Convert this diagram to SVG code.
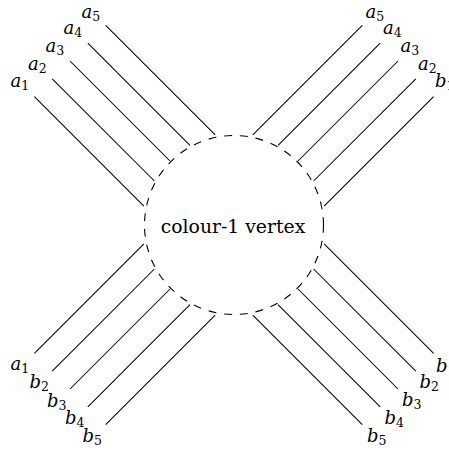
<svg xmlns="http://www.w3.org/2000/svg" width="449" height="450" viewBox="0 0 449 450">
<style>
.bg{fill:#fff}
.ring{fill:none;stroke:#000;stroke-width:1.1;stroke-dasharray:1 1}
.title{font-size:18.8px;fill:#000;text-anchor:middle}
.lbl{font-style:italic;font-size:18px;fill:#000}
.sub{font-style:normal;font-size:12.5px}
#edges line{stroke:#000;stroke-width:1.05;fill:none}
</style>
<rect class="bg" x="0" y="0" width="449" height="450"/>
<g id="edges">
<line x1="34.4" y1="96.7" x2="143.9" y2="206.2"/>
<line x1="52.2" y1="78.8" x2="154.4" y2="181"/>
<line x1="70" y1="61" x2="170" y2="161"/>
<line x1="87.8" y1="43.2" x2="190" y2="145.4"/>
<line x1="105.7" y1="25.4" x2="215.2" y2="134.9"/>
<line x1="362.3" y1="25.4" x2="252.8" y2="134.9"/>
<line x1="380.2" y1="43.2" x2="278" y2="145.4"/>
<line x1="398" y1="61" x2="298" y2="161"/>
<line x1="415.8" y1="78.8" x2="313.6" y2="181"/>
<line x1="433.6" y1="96.7" x2="324.1" y2="206.2"/>
<line x1="34.4" y1="353.3" x2="143.9" y2="243.8"/>
<line x1="52.2" y1="371.2" x2="154.4" y2="269"/>
<line x1="70" y1="389" x2="170" y2="289"/>
<line x1="87.8" y1="406.8" x2="190" y2="304.6"/>
<line x1="105.7" y1="424.6" x2="215.2" y2="315.1"/>
<line x1="433.6" y1="353.3" x2="324.1" y2="243.8"/>
<line x1="415.8" y1="371.2" x2="313.6" y2="269"/>
<line x1="398" y1="389" x2="298" y2="289"/>
<line x1="380.2" y1="406.8" x2="278" y2="304.6"/>
<line x1="362.3" y1="424.6" x2="252.8" y2="315.1"/>
</g>
<g font-family="DejaVu Serif, serif">
<g id="vertex">
<path class="ring" pathLength="71" d="M 323.5 225 A 89.5 89.5 0 0 0 144.5 225 A 89.5 89.5 0 0 0 323.5 225"/>
<text class="title" x="233" y="232.5">colour-1 vertex</text>
</g>
<g id="labels-top-left">
<text id="tl-a1" class="lbl" x="10.5" y="87.3">a<tspan class="sub" dy="3">1</tspan></text>
<text id="tl-a2" class="lbl" x="28" y="70">a<tspan class="sub" dy="3">2</tspan></text>
<text id="tl-a3" class="lbl" x="45.5" y="52.3">a<tspan class="sub" dy="3">3</tspan></text>
<text id="tl-a4" class="lbl" x="63.5" y="34.3">a<tspan class="sub" dy="3">4</tspan></text>
<text id="tl-a5" class="lbl" x="81.5" y="17.5">a<tspan class="sub" dy="3">5</tspan></text>
</g>
<g id="labels-top-right">
<text id="tr-a5" class="lbl" x="365.5" y="17.5">a<tspan class="sub" dy="3">5</tspan></text>
<text id="tr-a4" class="lbl" x="383" y="34.3">a<tspan class="sub" dy="3">4</tspan></text>
<text id="tr-a3" class="lbl" x="400.5" y="52">a<tspan class="sub" dy="3">3</tspan></text>
<text id="tr-a2" class="lbl" x="418" y="70">a<tspan class="sub" dy="3">2</tspan></text>
<text id="tr-b1" class="lbl" x="435" y="87">b<tspan class="sub" dy="3">1</tspan></text>
</g>
<g id="labels-bottom-left">
<text id="bl-a1" class="lbl" x="10.5" y="370">a<tspan class="sub" dy="3">1</tspan></text>
<text id="bl-b2" class="lbl" x="29.5" y="388.3">b<tspan class="sub" dy="3">2</tspan></text>
<text id="bl-b3" class="lbl" x="47" y="406.5">b<tspan class="sub" dy="3">3</tspan></text>
<text id="bl-b4" class="lbl" x="65" y="424">b<tspan class="sub" dy="3">4</tspan></text>
<text id="bl-b5" class="lbl" x="82.5" y="441.7">b<tspan class="sub" dy="3">5</tspan></text>
</g>
<g id="labels-bottom-right">
<text id="br-b1" class="lbl" x="436" y="371.7">b<tspan class="sub" dy="3">1</tspan></text>
<text id="br-b2" class="lbl" x="419.5" y="388.3">b<tspan class="sub" dy="3">2</tspan></text>
<text id="br-b3" class="lbl" x="402" y="406">b<tspan class="sub" dy="3">3</tspan></text>
<text id="br-b4" class="lbl" x="384.5" y="424">b<tspan class="sub" dy="3">4</tspan></text>
<text id="br-b5" class="lbl" x="367" y="441.7">b<tspan class="sub" dy="3">5</tspan></text>
</g>
</g>
</svg>
